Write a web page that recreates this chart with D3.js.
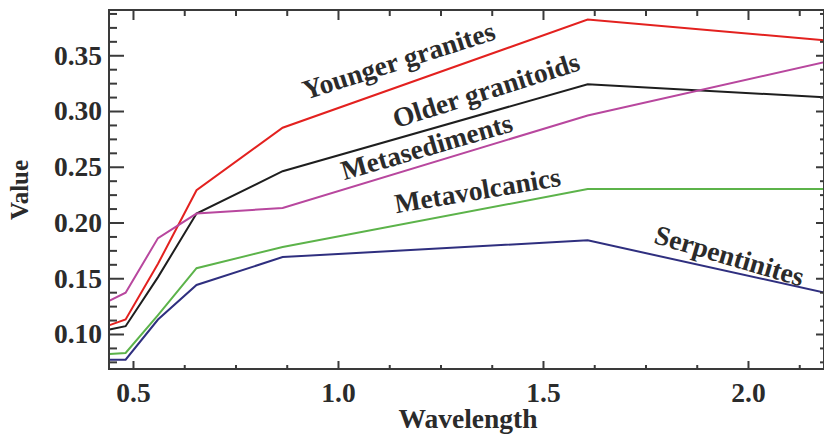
<!DOCTYPE html>
<html>
<head>
<meta charset="utf-8">
<script src="https://cdn.jsdelivr.net/npm/d3@7"></script>
<style>
  body { margin: 0; background: #fff; }
  svg text { font-family: "Liberation Serif", "Times New Roman", serif; font-weight: bold; fill: #2b2b2b; }
</style>
</head>
<body>
<div id="chart"></div>
<script>
// wavelengths (band centres) and reflectance per rock unit
var wavelengths = [0.443, 0.482, 0.561, 0.655, 0.865, 1.609, 2.201];

var youngerGranites = [0.108, 0.113, 0.163, 0.229, 0.285, 0.382, 0.363];
var olderGranitoids = [0.104, 0.107, 0.151, 0.208, 0.246, 0.324, 0.312];
var metasediments   = [0.130, 0.137, 0.186, 0.208, 0.213, 0.296, 0.345];
var metavolcanics   = [0.082, 0.083, 0.117, 0.159, 0.178, 0.230, 0.230];
var serpentinites   = [0.077, 0.077, 0.113, 0.144, 0.169, 0.184, 0.136];

var seriesNames = ["Younger granites", "Older granitoids", "Metasediments", "Metavolcanics", "Serpentinites"];
var seriesValues = [youngerGranites, olderGranitoids, metasediments, metavolcanics, serpentinites];

var xTicks = [0.5, 1.0, 1.5, 2.0];
var yTicks = [0.10, 0.15, 0.20, 0.25, 0.30, 0.35];

var colors = ["#e3211f", "#1e1e1e", "#b8479e", "#5cb34a", "#2f2f7f"];

// label anchors (data units) and rotation
var labelPos = [
  {x: 0.922, y: 0.3100, angle: -17.7},
  {x: 1.142, y: 0.2845, angle: -17.5},
  {x: 1.015, y: 0.2378, angle: -16.2},
  {x: 1.142, y: 0.2082, angle: -9.5},
  {x: 1.768, y: 0.1818, angle: 16.5}
];

var W = 824, H = 435;
var pL = 109, pR = 824, pT = 10, pB = 369;

var x = d3.scaleLinear().domain([0.4415, 2.1854]).range([pL, pR]);
var y = d3.scaleLinear().domain([0.0686, 0.3906]).range([pB, pT]);

var svg = d3.select("#chart").append("svg")
    .attr("width", W)
    .attr("height", H);

svg.append("clipPath").attr("id", "plotclip")
  .append("rect")
    .attr("x", pL).attr("y", pT)
    .attr("width", pR - pL).attr("height", pB - pT);

// lines
var line = d3.line()
    .x(function(d, i) { return x(wavelengths[i]); })
    .y(function(d) { return y(d); });

svg.append("g").attr("clip-path", "url(#plotclip)")
  .selectAll("path")
    .data(seriesValues)
  .enter().append("path")
    .attr("d", line)
    .attr("fill", "none")
    .attr("stroke", function(d, i) { return colors[i]; })
    .attr("stroke-width", 2)
    .attr("stroke-linejoin", "miter");

// minor tick values (every 0.125 / 0.0125, skipping majors)
var xMinor = d3.range(0.5, 2.19, 0.125).filter(function(v) { return Math.abs(v * 2 - Math.round(v * 2)) > 1e-6; });
var yMinor = d3.range(0.075, 0.39, 0.0125).filter(function(v) { return Math.abs(v * 20 - Math.round(v * 20)) > 1e-6; });

var axisColor = "#3a3a3a";

function fmt2(d) { return d3.format(".2f")(d); }
function fmt1(d) { return d3.format(".1f")(d); }

function styleTicks(g) {
  g.select(".domain").remove();
  g.selectAll("line").attr("stroke", axisColor).attr("stroke-width", 2);
}

// bottom axis (ticks inward)
svg.append("g")
    .attr("transform", "translate(0," + pB + ")")
    .call(d3.axisBottom(x).tickValues(xTicks).tickSize(-8).tickFormat(fmt1).tickPadding(13))
    .call(styleTicks)
    .call(function(g) { g.selectAll("text").attr("font-size", 27.5).attr("fill", "#2b2b2b"); });
svg.append("g")
    .attr("transform", "translate(0," + pB + ")")
    .call(d3.axisBottom(x).tickValues(xMinor).tickSize(-4).tickFormat(""))
    .call(styleTicks);

// top axis
svg.append("g")
    .attr("transform", "translate(0," + pT + ")")
    .call(d3.axisTop(x).tickValues(xTicks).tickSize(-10).tickFormat(""))
    .call(styleTicks);
svg.append("g")
    .attr("transform", "translate(0," + pT + ")")
    .call(d3.axisTop(x).tickValues(xMinor).tickSize(-6).tickFormat(""))
    .call(styleTicks);

// left axis
svg.append("g")
    .attr("transform", "translate(" + pL + ",0)")
    .call(d3.axisLeft(y).tickValues(yTicks).tickSize(-15).tickFormat(fmt2).tickPadding(7))
    .call(styleTicks)
    .call(function(g) { g.selectAll("text").attr("font-size", 27.5).attr("fill", "#2b2b2b"); });
svg.append("g")
    .attr("transform", "translate(" + pL + ",0)")
    .call(d3.axisLeft(y).tickValues(yMinor).tickSize(-8).tickFormat(""))
    .call(styleTicks);

// right axis
svg.append("g")
    .attr("transform", "translate(" + pR + ",0)")
    .call(d3.axisRight(y).tickValues(yTicks).tickSize(-8).tickFormat(""))
    .call(styleTicks);
svg.append("g")
    .attr("transform", "translate(" + pR + ",0)")
    .call(d3.axisRight(y).tickValues(yMinor).tickSize(-4).tickFormat(""))
    .call(styleTicks);

// frame
svg.append("rect")
    .attr("x", pL).attr("y", pT)
    .attr("width", pR - pL).attr("height", pB - pT)
    .attr("fill", "none")
    .attr("stroke", axisColor)
    .attr("stroke-width", 2);

// axis titles
svg.append("text")
    .attr("x", 468).attr("y", 428)
    .attr("text-anchor", "middle")
    .attr("font-size", 27.5)
    .text("Wavelength");

svg.append("text")
    .attr("transform", "translate(28,190) rotate(-90)")
    .attr("text-anchor", "middle")
    .attr("font-size", 25)
    .text("Value");

// line labels
svg.selectAll(".series-label")
    .data(seriesNames)
  .enter().append("text")
    .attr("class", "series-label")
    .attr("transform", function(d, i) {
      var p = labelPos[i];
      return "translate(" + x(p.x) + "," + y(p.y) + ") rotate(" + p.angle + ")";
    })
    .attr("font-size", 27.5)
    .text(function(d) { return d; });
</script>
</body>
</html>
